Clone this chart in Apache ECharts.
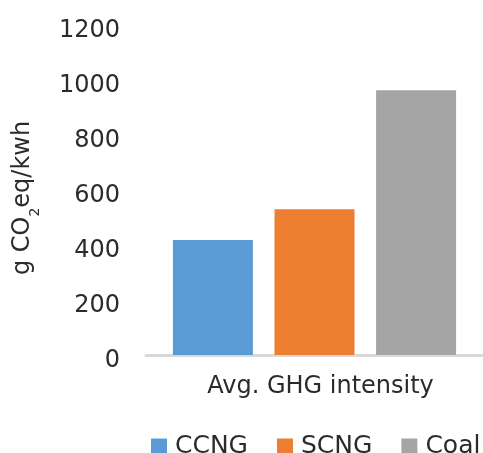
<!DOCTYPE html>
<html>
<head>
<meta charset="utf-8">
<script src="https://cdn.jsdelivr.net/npm/echarts@6/dist/echarts.min.js"></script>
<style>
  html, body { margin: 0; padding: 0; background: #fff; }
  #chart { width: 483px; height: 453px; }
</style>
</head>
<body>
<div id="chart"></div>
<script>
// Chart data
const categories = ['Avg. GHG intensity'];
const seriesNames = ['CCNG', 'SCNG', 'Coal'];
const ccngValues = [418];
const scngValues = [530];
const coalValues = [963];
const colors = ['#5B9BD5', '#ED7D31', '#A5A5A5'];

const FONT = 'DejaVu Sans, sans-serif';
const TEXT = '#2b2b2b';
const chart = echarts.init(document.getElementById('chart'));

const seriesValues = [ccngValues, scngValues, coalValues];

chart.setOption({
  animation: false,
  color: colors,
  textStyle: { fontFamily: FONT },
  grid: { left: 146, right: -3, top: 25, bottom: 98 },
  legend: {
    data: seriesNames,
    left: 151,
    top: 434,
    padding: 0,
    icon: 'rect',
    itemWidth: 16,
    itemHeight: 16,
    itemGap: 29,
    textStyle: { fontSize: 25, color: TEXT, fontFamily: FONT, padding: [0, 0, 0, 3] },
  },
  xAxis: {
    type: 'category',
    data: categories,
    axisLine: { lineStyle: { color: '#D9D9D9', width: 3 } },
    axisTick: { show: false },
    axisLabel: { fontSize: 24, color: TEXT, margin: 20, padding: [0, 0, 0, 12] },
  },
  yAxis: {
    type: 'value',
    min: 0,
    max: 1200,
    interval: 200,
    name: '{a|g CO}{s|2}{a|eq/kwh}',
    nameLocation: 'middle',
    nameGap: 108,
    nameTextStyle: {
      color: TEXT,
      padding: [0, 0, 0, -16],
      rich: {
        a: { fontSize: 24, color: TEXT, fontFamily: FONT, lineHeight: 30 },
        s: { fontSize: 14, color: TEXT, fontFamily: FONT, verticalAlign: 'bottom', lineHeight: 14, padding: [0, 0, -4, 0] },
      },
    },
    axisLine: { show: false },
    axisTick: { show: false },
    splitLine: { show: false },
    axisLabel: {
      fontSize: 24, color: TEXT, margin: 26,
      verticalAlign: 'top', lineHeight: 12,
      formatter: v => String(v),
    },
  },
  series: seriesNames.map((name, i) => ({
    name: name,
    type: 'bar',
    data: seriesValues[i],
    barWidth: 80,
    barGap: '27%',
  })),
});
</script>
</body>
</html>
